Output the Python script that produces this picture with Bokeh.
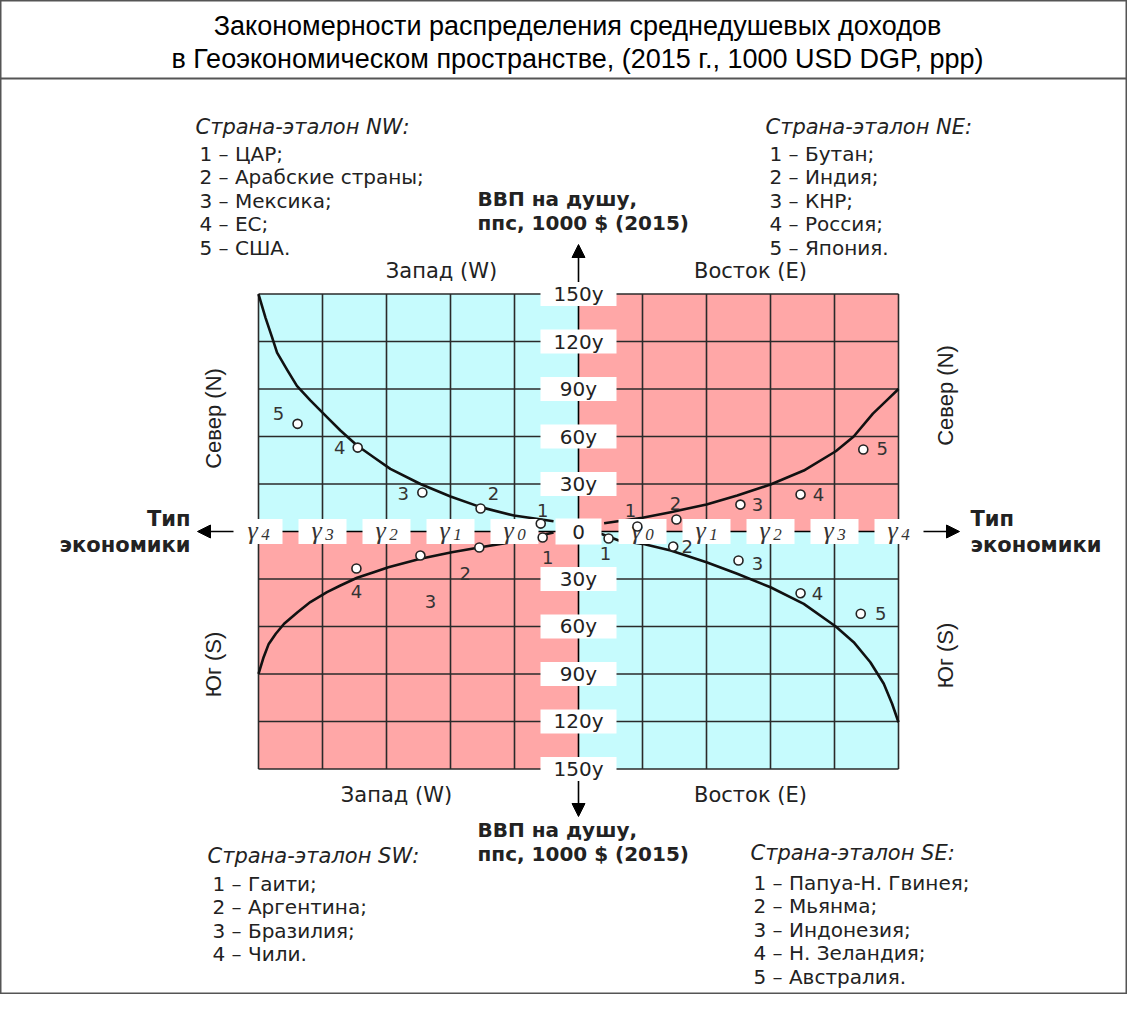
import math
from bokeh.plotting import figure
from bokeh.models import Arrow, NormalHead, ColumnDataSource
from bokeh.core.properties import value
from bokeh.embed import file_html
from bokeh.resources import INLINE

# ---------------- data ----------------
x_extent = [-5, 5]
y_extent = [-150, 150]
y_ticks = [30, 60, 90, 120, 150]
y_tick_labels = ["30y", "60y", "90y", "120y", "150y"]
gamma_pos = [1, 2, 3, 4, 5]
gamma_idx = ["0", "1", "2", "3", "4"]

nw_curve_x = [-5.0, -4.89, -4.79, -4.71, -4.55, -4.40, -4.19, -3.93, -3.72, -3.46, -3.20, -2.94,
              -2.47, -2.0, -1.53, -1.01, -0.39]
nw_curve_y = [150, 135, 123, 113, 102, 92, 82.8, 72.3, 63.8, 54.3, 46.9, 39.6, 30, 22.1, 15.4, 10.1, 6.5]
ne_curve_x = [0.40, 1.0, 1.44, 2.0, 2.48, 3.0, 3.52, 4.02, 4.30, 4.6, 4.82, 5.0]
ne_curve_y = [5.2, 8.7, 12.2, 17.1, 22.7, 29.7, 38.5, 50.7, 60, 74.5, 83, 90]
sw_curve_x = [-5.0, -4.92, -4.84, -4.73, -4.6, -4.39, -4.19, -3.93, -3.72, -3.46, -3.2, -2.97,
              -2.47, -1.98, -1.53, -1.06, -0.39]
sw_curve_y = [-90, -79.4, -71, -64.6, -58.3, -51, -44.6, -38.3, -34.1, -29.2, -25.7, -22.6,
              -17.2, -13.1, -9.9, -6.8, -0.6]
se_curve_x = [0.34, 0.63, 1.0, 1.44, 2.0, 2.48, 3.0, 3.52, 4.02, 4.30, 4.56, 4.77, 4.90, 5.0]
se_curve_y = [-1.3, -5.7, -7.8, -12, -19.4, -26.7, -35.2, -45.7, -60, -69.9, -82.6, -96.2, -108.8, -120.5]

nw_x = [-0.59, -1.53, -2.44, -3.45, -4.39]
nw_y = [5.0, 14.5, 24.6, 53, 68]
nw_lbl = ["1", "2", "3", "4", "5"]
ne_x = [0.92, 1.53, 2.53, 3.47, 4.45]
ne_y = [3.2, 7.6, 17, 23.4, 51.8]
ne_lbl = ["1", "2", "3", "4", "5"]
sw_x = [-0.56, -1.55, -2.47, -3.47]
sw_y = [-3.8, -10.1, -15.2, -23.4]
sw_lbl = ["1", "2", "3", "4"]
se_x = [0.47, 1.48, 2.5, 3.47, 4.41]
se_y = [-4.4, -9.5, -18.3, -39, -52]
se_lbl = ["1", "2", "3", "4", "5"]

title_lines = ["Закономерности распределения среднедушевых доходов",
               "в Геоэкономическом пространстве, (2015 г., 1000 USD DGP, ppp)"]
nw_head = "Страна-эталон NW:"
nw_items = ["1 – ЦАР;", "2 – Арабские страны;", "3 – Мексика;", "4 – ЕС;", "5 – США."]
ne_head = "Страна-эталон NE:"
ne_items = ["1 – Бутан;", "2 – Индия;", "3 – КНР;", "4 – Россия;", "5 – Япония."]
sw_head = "Страна-эталон SW:"
sw_items = ["1 – Гаити;", "2 – Аргентина;", "3 – Бразилия;", "4 – Чили."]
se_head = "Страна-эталон SE:"
se_items = ["1 – Папуа-Н. Гвинея;", "2 – Мьянма;", "3 – Индонезия;", "4 – Н. Зеландия;", "5 – Австралия."]

# ---------------- layout ----------------
W, H = 1127, 994
CX, CY, SX, SY = 578.0, 531.0, 64.0, 1.583
def dx(px): return (px - CX) / SX
def dy(py): return (CY - py) / SY

CYAN = "#C6FBFD"
PINK = "#FFA7A7"
LINE = "#2a2a2a"
TXT = "#222222"

p = figure(width=W, height=H, x_range=(dx(0), dx(W)), y_range=(dy(H), dy(0)),
           output_backend="svg", toolbar_location=None, x_axis_type=None, y_axis_type=None,
           min_border=0)
p.outline_line_color = "#555555"
p.outline_line_width = 2
p.background_fill_color = "white"

# quadrants
x0, x1 = x_extent
y0, y1 = y_extent
p.quad(left=[x0, 0, x0, 0], right=[0, x1, 0, x1], bottom=[0, 0, y0, y0], top=[y1, y1, 0, 0],
       fill_color=[CYAN, PINK, PINK, CYAN], line_color=None)

# grid
vx = [v for v in range(x0, x1 + 1) if v != 0]
p.multi_line(xs=[[v, v] for v in vx], ys=[[y0, y1]] * len(vx), line_color=LINE, line_width=1.6)
hy = [t for t in y_ticks] + [-t for t in y_ticks]
p.multi_line(xs=[[x0, x1]] * len(hy), ys=[[v, v] for v in hy], line_color=LINE, line_width=1.6)
# axes
p.segment(x0=[0, x0], y0=[y0, 0], x1=[0, x1], y1=[y1, 0], line_color="black", line_width=1.6)

# arrows
head = lambda: NormalHead(size=13, fill_color="black", line_color="black")
p.add_layout(Arrow(end=head(), x_start=0, y_start=y1 + 12 / SY, x_end=0, y_end=dy(244), line_width=1.6))
p.add_layout(Arrow(end=head(), x_start=0, y_start=y0 - 12 / SY, x_end=0, y_end=dy(816), line_width=1.6))
p.add_layout(Arrow(end=head(), x_start=x0 - 25 / SX, y_start=0, x_end=dx(197), y_end=0, line_width=1.6))
p.add_layout(Arrow(end=head(), x_start=x1 + 25 / SX, y_start=0, x_end=dx(959), y_end=0, line_width=1.6))

# curves
for cx, cy in [(nw_curve_x, nw_curve_y), (ne_curve_x, ne_curve_y), (sw_curve_x, sw_curve_y), (se_curve_x, se_curve_y)]:
    p.line(cx, cy, line_color="#111111", line_width=2.6, line_join="round")

# tick label boxes & labels
ty = y_ticks + [-t for t in y_ticks]
tl = y_tick_labels + y_tick_labels
p.rect(x=[0] * len(ty), y=ty, width=76, height=24, width_units="screen", height_units="screen",
       fill_color="white", line_color=None)
p.text(x=[0] * len(ty), y=ty, text=tl, text_align="center", text_baseline="middle",
       text_font=value("DejaVu Sans"), text_font_size="20px", text_color=TXT)

gx = gamma_pos + [-g for g in gamma_pos]
gl = gamma_idx + gamma_idx
p.rect(x=gx, y=[0] * len(gx), width=48, height=25, width_units="screen", height_units="screen",
       fill_color="white", line_color=None)
p.rect(x=[0], y=[0], width=46, height=26, width_units="screen", height_units="screen",
       fill_color="white", line_color=None)
p.text(x=[0], y=[0], text=["0"], text_align="center", text_baseline="middle",
       text_font=value("DejaVu Sans"), text_font_size="20px", text_color=TXT)
p.text(x=gx, y=[0] * len(gx), text=["γ"] * len(gx), x_offset=-6, y_offset=-1,
       text_align="center", text_baseline="middle", text_font=value("Liberation Serif"),
       text_font_style="italic", text_font_size="26px", text_color="#333333")
p.text(x=gx, y=[0] * len(gx), text=gl, x_offset=7, y_offset=3,
       text_align="center", text_baseline="middle", text_font=value("Liberation Serif"),
       text_font_style="italic", text_font_size="17px", text_color="#333333")

# points and their numbers
def pts(xs, ys, lbls, offs):
    src = ColumnDataSource(dict(x=xs, y=ys, t=lbls, ox=[o[0] for o in offs], oy=[o[1] for o in offs]))
    p.scatter("x", "y", source=src, marker="circle", size=9, fill_color="white",
              line_color="#222222", line_width=1.6)
    p.text("x", "y", text="t", source=src, x_offset="ox", y_offset="oy", text_align="center",
           text_baseline="middle", text_font=value("DejaVu Sans"), text_font_size="18px",
           text_color="#333333")

pts(nw_x, nw_y, nw_lbl, [(2, -13), (13, -15), (-19, 1), (-18, 0), (-19, -10)])
pts(ne_x, ne_y, ne_lbl, [(-7, -16), (-1, -16), (17, 0), (18, 0), (19, -1)])
pts(sw_x, sw_y, sw_lbl, [(5, 20), (-14, 26), (10, 46), (0, 23)])
pts(se_x, se_y, se_lbl, [(-3, 15), (14, 0), (19, 3), (17, 0), (20, 0)])

# static texts (pixel positions on the picture)
def txt(s, px, py, size=18, font="DejaVu Sans", style="normal", align="left", angle=0.0, color=TXT):
    p.text(x=[dx(px)], y=[dy(py)], text=[s], text_align=align, text_baseline="middle",
           text_font=value(font), text_font_style=style, text_font_size=f"{size}px",
           text_color=color, angle=angle)

# title
txt(title_lines[0], 577, 25, size=27, font="Liberation Sans", align="center", color="black")
txt(title_lines[1], 577, 58, size=27, font="Liberation Sans", align="center", color="black")
p.segment(x0=[dx(0)], y0=[dy(78)], x1=[dx(W)], y1=[dy(78)], line_color="#555555", line_width=2)

# legends
def legend(head_s, items, hx, hy, ix, iy0, step=23.5):
    txt(head_s, hx, hy, size=21, style="italic")
    for i, s in enumerate(items):
        txt(s, ix, iy0 + i * step, size=20)

legend(nw_head, nw_items, 195, 126, 199, 153)
legend(ne_head, ne_items, 765, 126, 769, 153)
legend(sw_head, sw_items, 207, 855, 212, 883)
legend(se_head, se_items, 750, 852, 753, 882)

# axis titles
txt("ВВП на душу,", 477, 198, size=20, style="bold")
txt("ппс, 1000 $ (2015)", 477, 222, size=20, style="bold")
txt("ВВП на душу,", 477, 829, size=20, style="bold")
txt("ппс, 1000 $ (2015)", 477, 853, size=20, style="bold")
txt("Тип", 190, 518, size=21, style="bold", align="right")
txt("экономики", 190, 544, size=21, style="bold", align="right")
txt("Тип", 970, 518, size=21, style="bold")
txt("экономики", 970, 544, size=21, style="bold")

txt("Запад (W)", 441, 270, size=21, align="center")
txt("Восток (E)", 750, 270, size=21, align="center")
txt("Запад (W)", 396, 794, size=21, align="center")
txt("Восток (E)", 750, 794, size=21, align="center")

txt("Север (N)", 213, 418, size=22, font="Liberation Sans", align="center", angle=math.pi / 2)
txt("Юг (S)", 213, 664, size=22, font="Liberation Sans", align="center", angle=math.pi / 2)
txt("Север (N)", 945, 395, size=22, font="Liberation Sans", align="center", angle=math.pi / 2)
txt("Юг (S)", 945, 655, size=22, font="Liberation Sans", align="center", angle=math.pi / 2)

open("out.html", "w").write(file_html(p, INLINE))
